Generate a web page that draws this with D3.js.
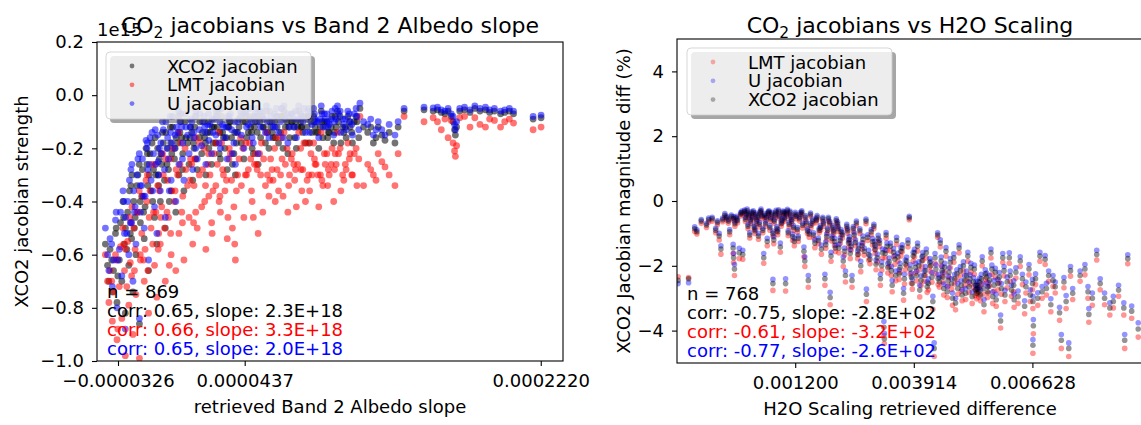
<!DOCTYPE html>
<html>
<head>
<meta charset="utf-8">
<script src="https://cdn.jsdelivr.net/npm/d3@7"></script>
<style>
  body { margin: 0; background: #fff; overflow: hidden; }
  svg { display: block; font-family: "DejaVu Sans", sans-serif; }
  .tick text { font-family: "DejaVu Sans", sans-serif; font-size: 18px; fill: #000; }
  .tick line { stroke: #000; stroke-width: 1.1; }
</style>
</head>
<body>
<div id="chart"></div>
<script>
// ---- left panel: jacobian vs retrieved Band 2 albedo slope ----
// x in units of 1e-6, jacobians in units of 1e15
const slopeX = [
  -40.2,-38.9,-38.1,-37.4,-36.0,-35.3,-34.1,-33.2,-31.8,-31.1,
  -30.3,-28.7,-28.2,-26.8,-26.1,-25.2,-23.6,-23.1,-21.8,-21.2,
  -19.7,-19.1,-17.9,-16.8,-16.3,-14.9,-14.2,-12.7,-12.1,-10.6,
  -9.8,-9.2,-7.7,-7.1,-5.8,-4.6,-4.1,-2.7,-2.2,-0.6,
  0.3,1.4,2.2,3.3,4.1,5.2,6.4,7.1,8.3,10.2,
  11.1,12.4,13.2,14.3,15.1,16.4,17.8,19.2,20.3,21.4,
  22.1,23.8,25.2,26.3,27.9,29.1,30.4,31.8,33.2,34.4,
  35.8,37.2,38.1,40.3,41.7,43.2,44.4,45.9,48.2,50.1,
  51.8,53.3,55.1,56.8,58.3,60.2,61.7,64.1,65.8,68.2,
  69.7,72.3,73.8,76.2,77.6,80.3,81.8,84.2,85.7,88.3,
  89.8,92.2,93.7,96.3,97.8,100.2,101.6,104.3,105.8,108.2,
  109.7,112.4,113.1,115.3,117.8,121.2,124.1,126.3,128.2,139.7,
  151.7,157.2,159.8,162.1,164.3,166.2,168.1,169.2,170.1,170.6,
  171.3,173.2,176.1,179.4,182.3,185.4,188.7,191.2,194.1,197.8,
  200.3,203.1,205.6,217.4,222.2,
  -29.6,-28.1,-25.7,-24.2,-22.3,-19.8,-18.3,-15.7,-13.8,-11.7,
  -10.2,-8.1,-6.3,-3.8,-1.7,-0.2,2.4,3.9,6.2,9.3,
  11.8,14.2,16.7,20.1,22.8,26.4,28.3,30.9,34.2,36.3,
  38.7,41.2,44.8,47.3,48.9,51.2,53.8,56.2,59.3,60.8,
  62.7,65.3,66.8,69.2,70.7,73.3,74.8,77.4,78.7,81.3,
  82.8,85.2,86.7,89.3,90.8,93.2,94.6,97.3,98.8,101.2,
  103.4,104.8,107.2,108.6,111.3,
  -36.4,-33.7,-29.2,-27.3,-24.8,-22.7,-20.6,-17.2,-15.2,-13.3,
  -11.2,-8.7,-5.3,-3.1,-1.1,1.8,4.7,7.8,10.8,13.7,
  18.3,21.9,24.6,27.2,29.8,32.7,35.1,39.4,42.6,46.7,
  49.6,52.7,57.4,63.2,67.4,71.8,75.6,79.4,83.6,87.8,
  91.7,95.8,99.6,106.7,110.8,119.6,122.8,130.7,134.2,136.1,
  44.1,47.8,50.9,54.6,58.8,62.1,66.2,70.2,74.3,78.1,
  82.2,86.1,90.2,94.1,98.2,102.7,-6.8,-0.9,5.8,12.9,
  19.6,24.1,28.8,33.6,37.7,-24.4,-19.2,-14.6,-8.4,-32.7
];
const slopeXco2 = [
  -0.56,-0.64,-0.70,-0.58,-0.74,-0.66,-0.52,-0.78,-0.62,-0.48,
  -0.70,-0.56,-0.82,-0.44,-0.64,-0.52,-0.74,-0.40,-0.60,-0.34,
  -0.86,-0.48,-0.28,-0.54,-0.42,-0.22,-0.66,-0.36,-0.18,-0.46,
  -0.30,-0.56,-0.24,-0.40,-0.14,-0.32,-0.50,-0.20,-0.28,-0.36,
  -0.12,-0.24,-0.44,-0.18,-0.30,-0.10,-0.22,-0.36,-0.16,-0.26,
  -0.12,-0.32,-0.20,-0.08,-0.28,-0.16,-0.22,-0.10,-0.30,-0.14,
  -0.20,-0.26,-0.12,-0.18,-0.06,-0.24,-0.14,-0.20,-0.28,-0.10,
  -0.16,-0.22,-0.30,-0.12,-0.18,-0.24,-0.08,-0.14,-0.20,-0.10,
  -0.26,-0.16,-0.12,-0.06,-0.20,-0.14,-0.10,-0.18,-0.08,-0.12,
  -0.22,-0.10,-0.16,-0.06,-0.12,-0.18,-0.08,-0.14,-0.10,-0.20,
  -0.06,-0.12,-0.16,-0.08,-0.14,-0.10,-0.18,-0.12,-0.08,-0.14,
  -0.10,-0.16,-0.05,-0.12,-0.14,-0.18,-0.12,-0.15,-0.17,-0.06,
  -0.055,-0.06,-0.055,-0.065,-0.07,-0.06,-0.08,-0.10,-0.13,-0.15,
  -0.12,-0.06,-0.055,-0.065,-0.05,-0.06,-0.055,-0.065,-0.06,-0.07,
  -0.065,-0.06,-0.07,-0.09,-0.085,
  -0.40,-0.50,-0.36,-0.30,-0.46,-0.26,-0.38,-0.20,-0.30,-0.40,
  -0.16,-0.34,-0.26,-0.14,-0.40,-0.22,-0.16,-0.08,-0.28,-0.18,
  -0.14,-0.24,-0.10,-0.18,-0.14,-0.08,-0.22,-0.16,-0.12,-0.26,
  -0.18,-0.08,-0.16,-0.12,-0.22,-0.14,-0.08,-0.18,-0.12,-0.16,
  -0.08,-0.14,-0.20,-0.10,-0.16,-0.12,-0.20,-0.10,-0.14,-0.12,
  -0.18,-0.08,-0.14,-0.12,-0.16,-0.10,-0.14,-0.18,-0.12,-0.08,
  -0.14,-0.16,-0.12,-0.18,-0.10,
  -0.62,-0.50,-0.46,-0.58,-0.34,-0.50,-0.30,-0.44,-0.26,-0.22,
  -0.28,-0.20,-0.18,-0.26,-0.12,-0.20,-0.14,-0.10,-0.16,-0.12,
  -0.14,-0.10,-0.18,-0.12,-0.08,-0.16,-0.10,-0.14,-0.10,-0.08,
  -0.12,-0.10,-0.14,-0.12,-0.06,-0.10,-0.12,-0.08,-0.10,-0.14,
  -0.10,-0.12,-0.06,-0.10,-0.08,-0.12,-0.16,-0.14,-0.18,-0.12,
  -0.10,-0.14,-0.08,-0.12,-0.10,-0.16,-0.08,-0.12,-0.10,-0.12,
  -0.08,-0.12,-0.10,-0.14,-0.08,-0.12,-0.22,-0.18,-0.16,-0.18,
  -0.16,-0.12,-0.14,-0.12,-0.14,-0.54,-0.40,-0.34,-0.30,-0.68
];
const slopeLmt = [
  -0.60,-0.70,-0.78,-0.66,-0.85,-0.74,-0.60,-0.92,-0.72,-0.57,
  -0.84,-0.66,-0.98,-0.55,-0.79,-0.63,-0.90,-0.50,-0.75,-0.44,
  -0.99,-0.62,-0.38,-0.70,-0.58,-0.30,-0.82,-0.50,-0.26,-0.64,
  -0.44,-0.76,-0.36,-0.56,-0.22,-0.50,-0.70,-0.32,-0.46,-0.60,
  -0.20,-0.40,-0.66,-0.30,-0.52,-0.18,-0.38,-0.62,-0.28,-0.46,
  -0.24,-0.56,-0.34,-0.16,-0.50,-0.30,-0.42,-0.20,-0.58,-0.26,
  -0.38,-0.48,-0.22,-0.34,-0.14,-0.44,-0.28,-0.36,-0.54,-0.20,
  -0.32,-0.42,-0.62,-0.24,-0.34,-0.46,-0.18,-0.28,-0.40,-0.22,
  -0.52,-0.30,-0.24,-0.14,-0.38,-0.28,-0.20,-0.36,-0.16,-0.26,
  -0.44,-0.22,-0.32,-0.14,-0.28,-0.40,-0.18,-0.30,-0.24,-0.42,
  -0.14,-0.26,-0.34,-0.20,-0.28,-0.22,-0.36,-0.26,-0.18,-0.30,
  -0.22,-0.24,-0.08,-0.34,-0.26,-0.30,-0.22,-0.25,-0.27,-0.08,
  -0.10,-0.085,-0.10,-0.13,-0.09,-0.16,-0.095,-0.18,-0.21,-0.23,
  -0.19,-0.085,-0.08,-0.12,-0.085,-0.11,-0.12,-0.09,-0.095,-0.12,
  -0.10,-0.09,-0.105,-0.13,-0.12,
  -0.50,-0.58,-0.46,-0.42,-0.58,-0.36,-0.52,-0.32,-0.46,-0.56,
  -0.26,-0.52,-0.42,-0.24,-0.64,-0.36,-0.28,-0.14,-0.48,-0.34,
  -0.26,-0.44,-0.18,-0.34,-0.30,-0.18,-0.40,-0.30,-0.24,-0.50,
  -0.36,-0.16,-0.30,-0.24,-0.46,-0.28,-0.18,-0.34,-0.24,-0.32,
  -0.16,-0.30,-0.38,-0.20,-0.30,-0.26,-0.42,-0.20,-0.28,-0.32,
  -0.36,-0.18,-0.26,-0.30,-0.34,-0.22,-0.30,-0.40,-0.26,-0.20,
  -0.32,-0.28,-0.22,-0.30,-0.34,
  -0.70,-0.62,-0.56,-0.72,-0.48,-0.66,-0.44,-0.62,-0.40,-0.36,
  -0.44,-0.34,-0.30,-0.44,-0.24,-0.36,-0.26,-0.20,-0.32,-0.24,
  -0.28,-0.22,-0.36,-0.26,-0.18,-0.32,-0.22,-0.30,-0.20,-0.18,
  -0.26,-0.22,-0.30,-0.28,-0.14,-0.24,-0.26,-0.18,-0.22,-0.30,
  -0.22,-0.26,-0.14,-0.24,-0.20,-0.28,-0.32,-0.30,-0.34,-0.22,
  -0.30,-0.36,-0.26,-0.44,-0.32,-0.40,-0.24,-0.34,-0.28,-0.36,
  -0.30,-0.26,-0.32,-0.28,-0.22,-0.30,-0.46,-0.52,-0.44,-0.48,
  -0.40,-0.52,-0.38,-0.46,-0.56,-0.68,-0.60,-0.66,-0.58,-0.88
];
const slopeU = [
  -0.50,-0.60,-0.66,-0.54,-0.72,-0.62,-0.47,-0.80,-0.58,-0.44,
  -0.68,-0.52,-0.88,-0.40,-0.60,-0.48,-0.70,-0.36,-0.56,-0.30,
  -0.84,-0.44,-0.24,-0.50,-0.38,-0.18,-0.62,-0.32,-0.14,-0.42,
  -0.26,-0.52,-0.20,-0.36,-0.10,-0.28,-0.46,-0.16,-0.24,-0.32,
  -0.08,-0.20,-0.40,-0.14,-0.26,-0.07,-0.18,-0.32,-0.12,-0.22,
  -0.09,-0.28,-0.16,-0.06,-0.24,-0.13,-0.19,-0.08,-0.26,-0.11,
  -0.17,-0.22,-0.09,-0.15,-0.05,-0.20,-0.11,-0.16,-0.24,-0.08,
  -0.13,-0.18,-0.26,-0.09,-0.15,-0.20,-0.06,-0.11,-0.16,-0.07,
  -0.22,-0.12,-0.09,-0.04,-0.16,-0.10,-0.07,-0.14,-0.05,-0.09,
  -0.18,-0.07,-0.12,-0.04,-0.09,-0.14,-0.06,-0.11,-0.07,-0.16,
  -0.04,-0.09,-0.12,-0.06,-0.10,-0.07,-0.14,-0.09,-0.06,-0.11,
  -0.07,-0.13,-0.03,-0.10,-0.11,-0.15,-0.10,-0.13,-0.15,-0.05,
  -0.045,-0.048,-0.045,-0.055,-0.06,-0.05,-0.07,-0.08,-0.11,-0.13,
  -0.10,-0.05,-0.045,-0.055,-0.04,-0.05,-0.045,-0.055,-0.05,-0.06,
  -0.055,-0.05,-0.06,-0.08,-0.075,
  -0.36,-0.46,-0.32,-0.26,-0.42,-0.22,-0.34,-0.17,-0.26,-0.36,
  -0.13,-0.30,-0.22,-0.10,-0.36,-0.18,-0.12,-0.06,-0.24,-0.15,
  -0.10,-0.20,-0.07,-0.14,-0.11,-0.06,-0.18,-0.12,-0.09,-0.22,
  -0.14,-0.06,-0.12,-0.09,-0.18,-0.10,-0.06,-0.14,-0.08,-0.12,
  -0.05,-0.10,-0.16,-0.07,-0.12,-0.09,-0.16,-0.07,-0.10,-0.09,
  -0.14,-0.05,-0.10,-0.09,-0.12,-0.07,-0.11,-0.15,-0.09,-0.06,
  -0.11,-0.13,-0.10,-0.15,-0.08,
  -0.56,-0.44,-0.40,-0.52,-0.28,-0.44,-0.24,-0.38,-0.20,-0.16,
  -0.22,-0.15,-0.13,-0.20,-0.08,-0.15,-0.10,-0.07,-0.12,-0.08,
  -0.10,-0.07,-0.14,-0.08,-0.05,-0.12,-0.07,-0.10,-0.07,-0.05,
  -0.08,-0.06,-0.10,-0.08,-0.04,-0.07,-0.09,-0.05,-0.07,-0.10,
  -0.07,-0.09,-0.04,-0.07,-0.05,-0.09,-0.13,-0.11,-0.15,-0.10,
  -0.07,-0.10,-0.05,-0.08,-0.06,-0.12,-0.05,-0.08,-0.06,-0.08,
  -0.05,-0.09,-0.07,-0.10,-0.05,-0.09,-0.18,-0.14,-0.12,-0.14,
  -0.12,-0.09,-0.10,-0.08,-0.10,-0.48,-0.34,-0.28,-0.25,-0.62
];
const slopeXTicks = [-32.6, 43.7, 222.0];
const slopeYTicks = [0.2, 0.0, -0.2, -0.4, -0.6, -0.8, -1.0];
const slopeStats = ["n = 869", "corr: 0.65, slope: 2.3E+18", "corr: 0.66, slope: 3.3E+18", "corr: 0.65, slope: 2.0E+18"];

// ---- right panel: jacobian magnitude diff (%) vs H2O scaling ----
// x in units of 1e-3
const h2oX = [
  -1.48,-1.24,-1.10,-1.05,-0.83,-0.70,-0.62,-0.54,-0.50,-0.46,
  -0.37,-0.30,-0.21,-0.18,-0.22,-0.21,-0.19,-0.12,-0.08,0.00,-0.05,
  0.04,0.08,0.12,0.16,0.20,0.22,0.28,0.32,0.36,0.40,
  0.44,0.48,0.52,0.56,0.60,0.64,0.69,0.71,0.69,0.74,
  0.78,0.82,0.86,0.90,0.95,0.98,1.02,1.06,1.10,1.14,
  1.18,1.20,1.25,1.30,1.35,1.40,1.42,1.45,1.50,1.52,
  1.55,1.60,1.65,1.70,1.75,1.80,1.85,1.88,1.92,1.96,
  2.00,2.02,2.06,2.10,2.14,2.17,2.20,2.25,2.30,2.35,
  2.38,2.42,2.46,2.50,2.55,2.60,2.65,2.70,2.75,2.82,
  2.83,2.88,2.94,3.00,3.02,
  3.05,3.10,3.15,3.20,3.23,3.24,3.28,3.32,3.38,3.42,
  3.48,3.52,3.58,3.62,3.68,3.72,3.78,3.81,3.86,3.90,
  3.95,4.00,4.05,4.10,4.15,4.20,4.25,4.30,4.35,4.38,
  4.40,4.46,4.47,
  4.52,4.56,4.60,4.65,4.70,4.75,4.80,4.87,4.90,4.95,
  5.00,5.05,5.10,5.15,5.20,5.25,5.30,5.34,5.37,5.40,
  5.42,5.48,5.52,5.58,5.62,5.68,5.72,5.78,5.84,5.90,
  5.95,6.00,
  6.10,6.12,6.20,6.21,6.35,6.40,6.45,6.55,6.63,6.64,
  6.65,6.64,6.80,6.85,6.92,7.00,7.05,7.15,7.25,7.29,
  7.35,7.46,7.50,7.55,7.72,7.83,7.90,7.92,8.00,8.10,
  8.18,8.28,8.40,8.48,8.60,8.72,8.74,8.81,8.90,9.05,
  -0.95,-0.78,-0.58,-0.41,-0.33,-0.26,-0.15,-0.02,0.06,0.10,
  0.14,0.18,0.24,0.26,0.30,0.34,0.38,0.42,0.46,0.50,
  0.54,0.58,0.62,0.66,0.72,0.76,0.80,0.84,0.88,0.92,
  0.96,1.00,1.04,1.08,1.12,1.16,1.22,1.27,1.32,1.37,
  1.43,1.48,1.56,1.62,1.68,1.73,1.78,1.83,1.90,1.94,
  1.99,2.04,2.08,2.12,2.18,2.23,2.28,2.33,2.40,2.44,
  2.48,2.53,2.58,2.63,2.68,2.73,2.78,2.86,2.91,2.97,
  3.03,3.08,3.13,3.18,3.26,3.30,3.35,3.40,3.45,3.50,
  3.55,3.60,3.65,3.70,3.75,3.83,3.88,3.93,3.98,4.03,
  4.08,4.12,4.18,4.22,4.28,4.33,4.42,4.50,4.54,4.58,
  4.62,4.68,4.72,4.78,4.83,4.85,4.92,4.98,5.02,5.08,
  5.12,5.18,5.22,5.28,5.32,5.35,5.38,5.44,5.46,5.50,
  5.55,5.60,5.65,5.70,5.75,5.80,5.87,5.92,5.98,6.05,
  6.15,6.25,6.30,6.48,6.58,6.70,6.75,6.95,7.10,7.40
];
const h2oXco2 = [
  -2.45,-2.40,-0.86,-0.95,-0.74,-0.55,-0.90,-1.08,-1.48,-0.58,
  -0.52,-0.95,-0.54,-0.70,-1.45,-1.75,-2.10,-0.60,-1.60,-1.65,-0.40,
  -0.32,-0.42,-0.78,-1.05,-0.38,-0.52,-0.92,-0.62,-1.08,-0.36,
  -0.48,-1.75,-0.70,-1.25,-0.34,-0.55,-1.00,-1.20,-2.55,-0.45,
  -0.85,-0.32,-1.42,-0.60,-0.38,-2.55,-0.30,-0.72,-0.50,-1.10,
  -1.25,-0.40,-0.88,-0.55,-0.35,-1.55,-1.85,-0.68,-2.45,-1.02,
  -0.42,-0.62,-1.30,-0.50,-0.90,-1.48,-0.70,-2.40,-1.10,-0.55,
  -2.98,-1.70,-0.82,-1.25,-0.60,-0.70,-1.45,-0.95,-1.85,-2.30,
  -0.78,-1.30,-1.62,-2.45,-1.05,-0.68,-1.48,-2.00,-1.18,-0.62,
  -2.88,-1.65,-0.95,-0.78,-1.35,
  -1.95,-1.15,-2.40,-1.60,-3.90,-4.25,-1.05,-2.05,-1.40,-2.60,
  -1.80,-1.22,-2.25,-1.55,-2.85,-1.95,-1.30,-0.52,-2.35,-1.70,
  -2.05,-1.40,-2.75,-1.85,-2.30,-1.60,-2.55,-2.00,-3.10,-4.55,
  -1.75,-1.05,-2.40,
  -1.30,-2.15,-2.70,-1.55,-2.45,-1.90,-3.00,-3.15,-2.25,-1.45,
  -2.60,-2.00,-2.85,-1.70,-2.40,-2.95,-2.10,-2.60,-2.72,-2.80,
  -2.50,-1.85,-3.20,-2.35,-2.65,-1.60,-2.95,-2.20,-2.55,-3.70,
  -1.75,-2.90,
  -1.75,-2.30,-2.60,-3.05,-1.85,-2.40,-3.25,-2.10,-2.55,-3.10,
  -3.85,-4.45,-1.70,-2.80,-1.80,-2.30,-3.20,-2.65,-3.45,-4.30,
  -2.50,-4.55,-2.15,-2.85,-2.30,-2.10,-2.80,-3.50,-3.00,-1.65,
  -2.55,-3.00,-3.30,-3.10,-2.75,-3.30,-4.30,-1.78,-3.40,-3.95,
  -0.62,-0.58,-0.66,-0.44,-0.62,-0.48,-0.52,-0.36,-0.56,-0.30,
  -0.45,-0.62,-0.35,-0.80,-0.42,-0.50,-0.72,-0.30,-0.90,-0.44,
  -0.52,-0.38,-0.82,-0.40,-0.62,-0.34,-0.95,-0.48,-0.70,-0.36,
  -0.55,-0.42,-0.98,-0.36,-0.62,-0.82,-0.48,-1.15,-0.40,-0.75,
  -0.50,-0.92,-0.75,-1.05,-0.60,-1.22,-0.82,-0.55,-1.35,-0.90,
  -0.68,-1.15,-0.95,-1.45,-0.85,-1.22,-1.05,-1.55,-0.92,-1.18,
  -1.40,-0.85,-1.28,-1.65,-0.92,-1.38,-1.55,-1.12,-1.80,-1.25,
  -1.50,-1.75,-1.30,-2.00,-1.62,-1.40,-1.88,-2.15,-1.58,-2.30,
  -1.72,-2.05,-1.45,-2.40,-1.85,-2.10,-2.55,-1.60,-2.30,-2.00,
  -2.45,-1.70,-2.15,-2.65,-1.90,-2.35,-2.10,-2.50,-1.85,-2.35,
  -2.05,-2.80,-2.20,-2.55,-1.75,-2.40,-2.70,-2.15,-2.90,-2.45,
  -2.30,-2.65,-2.05,-2.50,-2.75,-2.85,-2.62,-2.90,-2.40,-2.70,
  -2.25,-2.80,-2.45,-2.10,-2.60,-3.05,-2.35,-2.70,-2.15,-2.50,
  -2.75,-2.20,-2.95,-2.65,-2.90,-2.40,-3.00,-2.70,-2.45,-3.10
];
const h2oLmt = [
  -2.34,-2.36,-0.94,-1.02,-0.82,-0.62,-0.98,-1.20,-1.64,-0.64,
  -0.58,-1.04,-0.60,-0.78,-1.62,-1.90,-2.30,-0.68,-1.78,-1.80,-0.46,
  -0.38,-0.50,-0.86,-1.14,-0.45,-0.58,-1.00,-0.70,-1.18,-0.42,
  -0.55,-1.92,-0.78,-1.38,-0.40,-0.62,-1.08,-1.32,-2.76,-0.52,
  -0.93,-0.38,-1.58,-0.68,-0.44,-2.78,-0.36,-0.80,-0.57,-1.22,
  -1.38,-0.46,-0.96,-0.62,-0.41,-1.72,-2.02,-0.76,-2.66,-1.12,
  -0.48,-0.70,-1.44,-0.57,-0.98,-1.64,-0.78,-2.60,-1.20,-0.62,
  -3.20,-1.86,-0.90,-1.38,-0.68,-0.78,-1.60,-1.04,-2.02,-2.50,
  -0.86,-1.44,-1.78,-2.66,-1.15,-0.76,-1.64,-2.18,-1.30,-0.70,
  -3.10,-1.82,-1.04,-0.86,-1.50,
  -2.12,-1.26,-2.60,-1.76,-4.15,-4.40,-1.15,-2.22,-1.54,-2.80,
  -1.96,-1.34,-2.42,-1.70,-3.06,-2.12,-1.42,-0.58,-2.54,-1.86,
  -2.22,-1.54,-2.96,-2.02,-2.48,-1.76,-2.74,-2.18,-3.34,-4.80,
  -1.92,-1.12,-2.58,
  -1.42,-2.32,-2.90,-1.70,-2.62,-2.06,-3.22,-3.36,-2.42,-1.60,
  -2.78,-2.16,-3.04,-1.86,-2.56,-3.16,-2.26,-2.74,-2.86,-2.96,
  -2.66,-2.00,-3.42,-2.52,-2.84,-1.76,-3.16,-2.36,-2.74,-3.92,
  -1.90,-3.10,
  -1.92,-2.48,-2.80,-3.28,-2.02,-2.58,-3.48,-2.28,-2.74,-3.32,
  -4.10,-4.70,-1.86,-3.00,-1.96,-2.48,-3.42,-2.84,-3.68,-4.55,
  -2.68,-4.80,-2.32,-3.04,-2.48,-2.28,-3.00,-3.74,-3.22,-1.82,
  -2.74,-3.20,-3.52,-3.30,-2.94,-3.52,-4.55,-1.94,-3.62,-4.20,
  -0.69,-0.65,-0.73,-0.50,-0.69,-0.55,-0.59,-0.42,-0.63,-0.36,
  -0.52,-0.69,-0.41,-0.88,-0.49,-0.57,-0.80,-0.36,-0.98,-0.51,
  -0.59,-0.44,-0.90,-0.47,-0.69,-0.40,-1.04,-0.55,-0.78,-0.42,
  -0.62,-0.48,-1.07,-0.42,-0.69,-0.90,-0.55,-1.25,-0.47,-0.83,
  -0.57,-1.00,-0.83,-1.14,-0.67,-1.32,-0.90,-0.62,-1.46,-0.98,
  -0.75,-1.24,-1.03,-1.56,-0.93,-1.31,-1.14,-1.67,-1.00,-1.27,
  -1.51,-0.93,-1.38,-1.78,-1.00,-1.49,-1.67,-1.22,-1.94,-1.36,
  -1.62,-1.88,-1.41,-2.14,-1.75,-1.52,-2.02,-2.30,-1.71,-2.46,
  -1.85,-2.20,-1.57,-2.56,-1.99,-2.25,-2.72,-1.73,-2.46,-2.14,
  -2.61,-1.83,-2.30,-2.82,-2.04,-2.51,-2.25,-2.66,-1.99,-2.51,
  -2.20,-2.98,-2.36,-2.72,-1.89,-2.56,-2.88,-2.30,-3.08,-2.61,
  -2.46,-2.82,-2.20,-2.66,-2.92,-3.02,-2.78,-3.08,-2.56,-2.87,
  -2.41,-2.98,-2.62,-2.26,-2.78,-3.25,-2.52,-2.88,-2.31,-2.68,
  -2.94,-2.38,-3.16,-2.84,-3.10,-2.58,-3.22,-2.90,-2.64,-3.32
];
const h2oU = [
  -2.55,-2.52,-0.80,-0.89,-0.69,-0.50,-0.84,-1.00,-1.38,-0.53,
  -0.47,-0.88,-0.49,-0.64,-1.34,-1.62,-1.96,-0.55,-1.46,-1.52,-0.36,
  -0.28,-0.37,-0.72,-0.98,-0.33,-0.47,-0.86,-0.57,-1.00,-0.31,
  -0.43,-1.62,-0.64,-1.15,-0.30,-0.50,-0.93,-1.10,-2.42,-0.40,
  -0.79,-0.27,-1.30,-0.55,-0.33,-2.40,-0.26,-0.66,-0.45,-1.02,
  -1.15,-0.35,-0.82,-0.50,-0.30,-1.42,-1.72,-0.62,-2.30,-0.95,
  -0.37,-0.56,-1.20,-0.45,-0.84,-1.36,-0.64,-2.26,-1.02,-0.50,
  -2.82,-1.58,-0.76,-1.15,-0.55,-0.64,-1.34,-0.88,-1.72,-2.16,
  -0.72,-1.20,-1.50,-2.30,-0.98,-0.62,-1.36,-1.86,-1.08,-0.56,
  -2.72,-1.52,-0.88,-0.72,-1.24,
  -1.82,-1.06,-2.26,-1.48,-3.72,-4.08,-0.97,-1.92,-1.30,-2.45,
  -1.68,-1.12,-2.12,-1.44,-2.70,-1.82,-1.20,-0.47,-2.22,-1.58,
  -1.92,-1.30,-2.60,-1.72,-2.16,-1.48,-2.40,-1.86,-2.94,-4.38,
  -1.62,-0.98,-2.26,
  -1.20,-2.02,-2.56,-1.44,-2.32,-1.78,-2.84,-3.00,-2.12,-1.35,
  -2.46,-1.88,-2.70,-1.58,-2.28,-2.80,-1.98,-2.48,-2.60,-2.68,
  -2.38,-1.72,-3.04,-2.22,-2.52,-1.48,-2.80,-2.08,-2.42,-3.52,
  -1.62,-2.76,
  -1.60,-2.16,-2.46,-2.88,-1.72,-2.26,-3.08,-1.96,-2.42,-2.94,
  -3.66,-4.28,-1.58,-2.64,-1.68,-2.16,-3.02,-2.50,-3.28,-4.12,
  -2.36,-4.38,-2.02,-2.70,-2.16,-1.96,-2.64,-3.32,-2.84,-1.52,
  -2.40,-2.84,-3.14,-2.94,-2.60,-3.14,-4.12,-1.66,-3.24,-3.76,
  -0.57,-0.53,-0.61,-0.39,-0.57,-0.43,-0.47,-0.31,-0.51,-0.25,
  -0.40,-0.57,-0.30,-0.74,-0.37,-0.45,-0.66,-0.25,-0.84,-0.39,
  -0.47,-0.33,-0.76,-0.35,-0.57,-0.29,-0.89,-0.43,-0.64,-0.31,
  -0.50,-0.37,-0.92,-0.31,-0.57,-0.76,-0.43,-1.08,-0.35,-0.69,
  -0.45,-0.86,-0.69,-0.98,-0.55,-1.14,-0.76,-0.50,-1.26,-0.84,
  -0.63,-1.08,-0.89,-1.36,-0.79,-1.14,-0.98,-1.45,-0.86,-1.10,
  -1.31,-0.79,-1.20,-1.54,-0.86,-1.29,-1.45,-1.04,-1.68,-1.16,
  -1.40,-1.64,-1.21,-1.88,-1.51,-1.30,-1.76,-2.02,-1.47,-2.16,
  -1.61,-1.92,-1.35,-2.26,-1.73,-1.97,-2.40,-1.49,-2.16,-1.88,
  -2.31,-1.59,-2.02,-2.50,-1.78,-2.21,-1.97,-2.36,-1.73,-2.21,
  -1.92,-2.64,-2.06,-2.40,-1.63,-2.26,-2.55,-2.02,-2.74,-2.31,
  -2.16,-2.50,-1.92,-2.36,-2.60,-2.70,-2.48,-2.74,-2.26,-2.55,
  -2.12,-2.64,-2.30,-1.98,-2.45,-2.88,-2.21,-2.55,-2.02,-2.35,
  -2.60,-2.06,-2.78,-2.50,-2.74,-2.25,-2.83,-2.54,-2.30,-2.92
];
const h2oXTicks = [1.2, 3.914, 6.628];
const h2oYTicks = [4, 2, 0, -2, -4];
const h2oStats = ["n = 768", "corr: -0.75, slope: -2.8E+02", "corr: -0.61, slope: -3.2E+02", "corr: -0.77, slope: -2.6E+02"];

const W = 1141, H = 425;
const minus = s => s.replace("-", "\u2212");

const svg = d3.select("#chart")
  .append("svg")
  .attr("width", W)
  .attr("height", H);

function drawPanel(p) {
  const x = d3.scaleLinear().domain(p.xDomain).range([p.left, p.right]);
  const y = d3.scaleLinear().domain(p.yDomain).range([p.bottom, p.top]);
  const g = svg.append("g");

  svg.append("clipPath").attr("id", "clip-" + p.id)
    .append("rect")
    .attr("x", p.left).attr("y", p.top)
    .attr("width", p.right - p.left).attr("height", p.bottom - p.top);

  // scatter, drawn in plotting order
  const dots = g.append("g").attr("clip-path", "url(#clip-" + p.id + ")");
  p.series.forEach(s => {
    dots.append("g")
      .selectAll("circle")
      .data(p.xs.map((v, i) => [v, s.ys[i]]))
      .enter()
      .append("circle")
      .attr("cx", d => x(d[0]))
      .attr("cy", d => y(d[1]))
      .attr("r", p.r)
      .attr("fill", s.color)
      .attr("fill-opacity", p.alpha);
  });

  // frame
  g.append("rect")
    .attr("x", p.left).attr("y", p.top)
    .attr("width", p.right - p.left).attr("height", p.bottom - p.top)
    .attr("fill", "none").attr("stroke", "#000").attr("stroke-width", 1.1);

  g.append("g")
    .attr("transform", "translate(0," + p.bottom + ")")
    .call(d3.axisBottom(x).tickValues(p.xTicks).tickFormat(p.xFormat).tickSize(5).tickPadding(8))
    .call(a => a.select(".domain").remove());

  g.append("g")
    .attr("transform", "translate(" + p.left + ",0)")
    .call(d3.axisLeft(y).tickValues(p.yTicks).tickFormat(p.yFormat).tickSize(5).tickPadding(8))
    .call(a => a.select(".domain").remove());

  // scale offset text (e.g. 1e15), sits under the title
  if (p.offsetText) {
    g.append("text")
      .attr("x", p.left).attr("y", 36)
      .attr("font-size", 18)
      .text(p.offsetText);
  }

  // title with subscript
  const t = g.append("text")
    .attr("x", (p.left + p.right) / 2)
    .attr("y", 33)
    .attr("text-anchor", "middle")
    .attr("font-size", 22);
  t.append("tspan").text("CO");
  t.append("tspan").attr("font-size", 15.5).attr("dy", 5).text("2");
  t.append("tspan").attr("dy", -5).text(" " + p.title);

  g.append("text")
    .attr("x", (p.left + p.right) / 2)
    .attr("y", p.bottom + 52)
    .attr("text-anchor", "middle")
    .attr("font-size", 18)
    .text(p.xLabel);

  g.append("text")
    .attr("transform", "translate(" + p.yLabelX + "," + (p.top + p.bottom) / 2 + ") rotate(-90)")
    .attr("text-anchor", "middle")
    .attr("font-size", 18)
    .text(p.yLabel);

  // legend: shadow + translucent white box, like matplotlib
  const lg = g.append("g");
  lg.append("rect")
    .attr("x", p.legend.x + 4).attr("y", p.legend.y + 4)
    .attr("width", 205).attr("height", 67).attr("rx", 4)
    .attr("fill", "#4d4d4d").attr("fill-opacity", 0.5);
  lg.append("rect")
    .attr("x", p.legend.x).attr("y", p.legend.y)
    .attr("width", 205).attr("height", 67).attr("rx", 4)
    .attr("fill", "#fff").attr("fill-opacity", 0.8)
    .attr("stroke", "#ccc").attr("stroke-opacity", 0.8);
  p.legendOrder.forEach((s, i) => {
    const ry = p.legend.y + 14 + i * 18.8;
    lg.append("circle")
      .attr("cx", p.legend.x + 26).attr("cy", ry).attr("r", 2.4)
      .attr("fill", s.color).attr("fill-opacity", p.legendAlpha);
    lg.append("text")
      .attr("x", p.legend.x + 61).attr("y", ry + 6.5)
      .attr("font-size", 18)
      .text(s.name);
  });

  // stats text
  const statColors = ["#000", "#000", "#ff0000", "#0000ff"];
  p.stats.forEach((s, i) => {
    g.append("text")
      .attr("x", p.left + 10)
      .attr("y", p.bottom - 63 + i * 19)
      .attr("font-size", 18)
      .attr("fill", statColors[i])
      .text(s);
  });
}

const xco2L = { name: "XCO2 jacobian", ys: slopeXco2, color: "#000" };
const lmtL = { name: "LMT jacobian", ys: slopeLmt, color: "#ff0000" };
const uL = { name: "U jacobian", ys: slopeU, color: "#0000ff" };

drawPanel({
  id: "slope",
  left: 97, right: 563, top: 42, bottom: 361,
  xDomain: [-45.25, 235.4], yDomain: [-1.0, 0.2],
  xs: slopeX,
  series: [xco2L, lmtL, uL],
  legendOrder: [xco2L, lmtL, uL],
  r: 3.4, alpha: 0.55, legendAlpha: 0.5,
  xTicks: slopeXTicks, xFormat: d => minus((d * 1e-6).toFixed(7)),
  yTicks: slopeYTicks, yFormat: d => minus(d.toFixed(1)),
  offsetText: "1e15",
  title: "jacobians vs Band 2 Albedo slope",
  xLabel: "retrieved Band 2 Albedo slope",
  yLabel: "XCO2 jacobian strength", yLabelX: 28,
  legend: { x: 106, y: 52 },
  stats: slopeStats
});

const lmtR = { name: "LMT jacobian", ys: h2oLmt, color: "#ff0000" };
const uR = { name: "U jacobian", ys: h2oU, color: "#0000ff" };
const xco2R = { name: "XCO2 jacobian", ys: h2oXco2, color: "#000" };

drawPanel({
  id: "h2o",
  left: 677, right: 1143, top: 39, bottom: 363,
  xDomain: [-1.505, 9.159], yDomain: [-5, 5],
  xs: h2oX,
  series: [lmtR, uR, xco2R],
  legendOrder: [lmtR, uR, xco2R],
  r: 2.8, alpha: 0.42, legendAlpha: 0.3,
  xTicks: h2oXTicks, xFormat: d => (d * 1e-3).toFixed(6),
  yTicks: h2oYTicks, yFormat: d => minus(String(d)),
  title: "jacobians vs H2O Scaling",
  xLabel: "H2O Scaling retrieved difference",
  yLabel: "XCO2 Jacobian magnitude diff (%)", yLabelX: 630,
  legend: { x: 687, y: 48 },
  stats: h2oStats
});
</script>
</body>
</html>
